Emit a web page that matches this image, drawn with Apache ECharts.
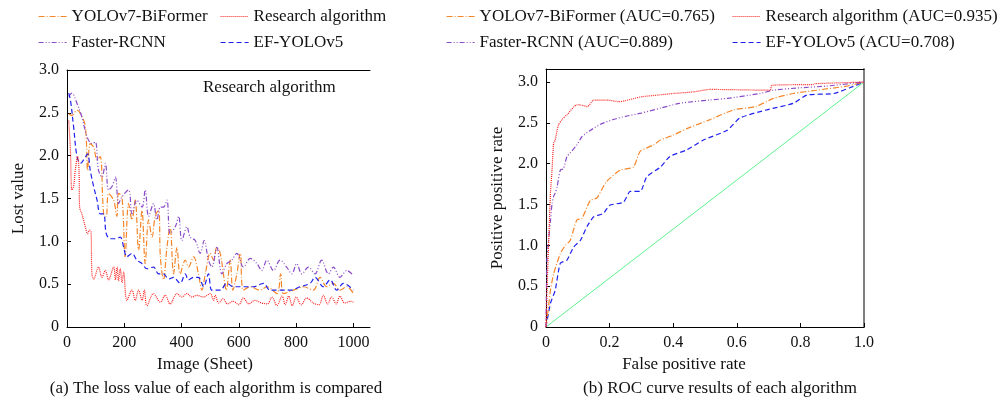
<!DOCTYPE html>
<html lang="en">
<head>
<meta charset="UTF-8">
<title>Loss and ROC</title>
<script src="https://cdn.jsdelivr.net/npm/echarts@6/dist/echarts.min.js"></script>
<style>
  body { margin: 0; background: #fff; }
  #main { width: 1001px; height: 404px; }
</style>
</head>
<body>
<div id="main"></div>
<script>
// ---- loss curves (x = image sheet, y = loss) ----
var yoloLossX = [6,17,35,47,64,72,81,93,105,116,128,137,145,163,174,180,192,203,215,227,238,250,262,273,285,297,308,320,326,337,349,360,372,384,395,413,424,442,459,471,483,500,512,523,535,546,556,570,579,593,605,616,640,674,698,733,746,756,791,826,860,884,907,930,953,977,1000];
var yoloLossY = [2.49,2.47,2.53,2.49,2.34,1.83,2.14,2.1,1.95,1.99,1.32,1.29,1.56,1.48,1.29,1.56,1.52,0.82,1.44,1.25,1.48,0.9,1.36,0.74,1.25,1.05,1.29,1.36,0.82,0.55,0.93,1.17,0.62,0.93,0.62,0.78,0.7,0.82,0.62,0.43,0.62,0.86,0.78,0.93,0.86,0.62,0.43,0.78,0.43,0.62,0.86,0.43,0.47,0.43,0.47,0.39,0.62,0.39,0.43,0.47,0.43,0.58,0.47,0.51,0.43,0.47,0.39];

var oursLossX = [6,12,17,23,29,37,42,44,52,64,72,79,84,87,93,110,122,134,145,163,169,175,180,186,192,198,209,227,238,250,262,270,279,302,326,343,360,384,401,419,436,453,477,500,512,517,530,545,560,580,600,616,635,655,680,700,716,733,751,762,774,787,800,818,837,860,880,895,910,924,940,953,970,990,1000];
var oursLossY = [2.41,2.06,1.6,1.64,1.83,1.99,1.83,1.4,1.32,1.17,1.09,1.13,1.11,0.62,0.56,0.7,0.58,0.66,0.55,0.7,0.55,0.7,0.54,0.68,0.52,0.64,0.31,0.43,0.31,0.43,0.31,0.43,0.25,0.39,0.29,0.37,0.27,0.39,0.35,0.39,0.35,0.37,0.35,0.39,0.31,0.37,0.28,0.33,0.27,0.3,0.26,0.34,0.27,0.31,0.28,0.27,0.35,0.25,0.36,0.26,0.36,0.25,0.35,0.26,0.34,0.28,0.26,0.37,0.27,0.35,0.27,0.36,0.28,0.3,0.29];

var frcnnLossX = [6,17,35,52,70,87,99,110,122,134,145,157,169,180,192,215,227,244,262,273,285,302,314,326,337,349,360,378,390,401,419,430,448,465,479,494,506,523,541,558,575,593,616,640,663,680,698,721,744,767,785,802,820,843,866,889,913,930,953,977,1000];
var frcnnLossY = [2.69,2.73,2.61,2.45,2.22,2.14,2.16,1.83,1.75,1.91,1.6,1.64,1.75,1.44,1.52,1.6,1.32,1.48,1.4,1.6,1.29,1.44,1.25,1.4,1.4,1.48,1.09,1.17,1.29,1.01,1.17,1.05,1.01,0.86,1.01,0.78,0.7,0.93,0.62,0.74,0.78,0.86,0.7,0.8,0.74,0.66,0.78,0.66,0.78,0.7,0.62,0.74,0.62,0.7,0.62,0.78,0.62,0.7,0.58,0.66,0.6];

var efLossX = [6,12,23,35,47,58,72,81,93,105,116,128,137,151,169,186,198,209,227,244,262,279,302,320,337,355,372,395,413,424,442,459,477,494,506,535,558,581,616,651,686,709,744,779,814,849,866,895,919,942,965,1000];
var efLossY = [2.73,2.65,2.34,1.99,1.91,1.95,2.02,1.83,1.64,1.48,1.32,1.32,1.09,1.03,1.03,1.05,0.93,0.82,0.86,0.78,0.74,0.68,0.7,0.62,0.62,0.56,0.58,0.51,0.62,0.55,0.58,0.58,0.47,0.62,0.43,0.43,0.51,0.47,0.47,0.47,0.51,0.43,0.43,0.43,0.47,0.51,0.58,0.47,0.55,0.43,0.51,0.43];

// ---- ROC curves (x = false positive rate) ----
var yoloRocX = [0,0.008,0.014,0.024,0.045,0.061,0.076,0.097,0.113,0.139,0.16,0.19,0.233,0.275,0.296,0.338,0.36,0.40,0.443,0.516,0.59,0.66,0.715,0.778,0.85,0.945,1.0];
var yoloRocY = [0,0.25,0.45,0.65,0.9,1.0,1.06,1.31,1.33,1.55,1.58,1.78,1.92,1.96,2.15,2.23,2.29,2.35,2.43,2.54,2.66,2.70,2.8,2.86,2.9,2.95,3.0];

var oursRocX = [0,0.003,0.014,0.019,0.024,0.029,0.035,0.04,0.05,0.066,0.097,0.108,0.13,0.15,0.19,0.23,0.30,0.35,0.40,0.464,0.516,0.705,0.71,0.84,0.846,1.0];
var oursRocY = [0,0.41,1.64,1.92,2.25,2.29,2.41,2.48,2.54,2.6,2.72,2.72,2.70,2.78,2.78,2.76,2.82,2.84,2.86,2.88,2.91,2.9,2.96,2.97,2.98,3.0];

var frcnnRocX = [0,0.003,0.008,0.014,0.019,0.024,0.029,0.035,0.045,0.055,0.066,0.076,0.097,0.113,0.14,0.17,0.21,0.25,0.3,0.36,0.42,0.516,0.57,0.673,0.715,0.8,0.88,1.0];
var frcnnRocY = [0,0.82,1.06,1.3,1.51,1.6,1.64,1.72,1.92,1.94,2.09,2.13,2.23,2.33,2.41,2.48,2.54,2.58,2.62,2.68,2.74,2.78,2.8,2.86,2.9,2.93,2.95,3.0];

var efRocX = [0,0.014,0.029,0.045,0.066,0.087,0.108,0.129,0.15,0.18,0.2,0.244,0.265,0.296,0.317,0.36,0.39,0.443,0.495,0.57,0.61,0.694,0.778,0.82,0.905,0.955,1.0];
var efRocY = [0,0.29,0.45,0.78,0.82,0.98,1.06,1.23,1.35,1.39,1.49,1.53,1.66,1.66,1.84,1.96,2.09,2.17,2.29,2.41,2.56,2.66,2.74,2.84,2.86,2.93,3.0];

var chanceX = [0, 1];
var chanceY = [0, 3];

function pairs(xs, ys) {
    var out = [];
    for (var i = 0; i < xs.length; i++) out.push([xs[i], ys[i]]);
    return out;
}

var FONT = 'Liberation Serif';
var C_ORANGE = '#f5862a', C_RED = '#ff1f1f', C_PURPLE = '#8a4cc8', C_BLUE = '#2020ee';
var DASH_ORANGE = [6, 2, 1, 2], DASH_RED = [1, 1], DASH_PURPLE = [5, 2, 1, 2, 1, 2], DASH_BLUE = [5, 3];

function mkLine(name, data, color, dash, xi, yi, smooth) {
    return {
        name: name, type: 'line', data: data, xAxisIndex: xi, yAxisIndex: yi,
        symbol: 'none', smooth: smooth, animation: false,
        lineStyle: { color: color, width: 1.2, type: dash },
        itemStyle: { color: color }
    };
}

// one legend per entry so each sits where the original puts it
function mkLegend(name, left, top, color, dash) {
    return {
        data: [name], left: left, top: top, itemWidth: 28, itemHeight: 10, itemGap: 0,
        itemStyle: { color: 'transparent', borderWidth: 0, opacity: 0 },
        lineStyle: { color: color, type: dash, width: 1.2 },
        textStyle: { fontFamily: FONT, fontSize: 17, color: '#111' }, padding: 0
    };
}

function fmt1(v) { return v === 0 ? '0' : v.toFixed(1); }

var axisName = { fontFamily: FONT, fontSize: 17, color: '#111' };
var blackLine = { onZero: false, lineStyle: { color: '#000', width: 1 } };
var noMarks = { axisTick: { show: false }, axisLabel: { show: false }, splitLine: { show: false } };

var myChart = echarts.init(document.getElementById('main'));

var option = {
    animation: false,
    grid: [
        { left: 67, top: 70, width: 303, height: 257 },
        { left: 546, top: 69, width: 318, height: 258 }
    ],
    legend: [
        mkLegend('YOLOv7-BiFormer', 38, 8, C_ORANGE, DASH_ORANGE),
        mkLegend('Research algorithm', 220, 8, C_RED, DASH_RED),
        mkLegend('Faster-RCNN', 38, 34, C_PURPLE, DASH_PURPLE),
        mkLegend('EF-YOLOv5', 220, 34, C_BLUE, DASH_BLUE),
        mkLegend('YOLOv7-BiFormer (AUC=0.765)', 446, 8, C_ORANGE, DASH_ORANGE),
        mkLegend('Research algorithm (AUC=0.935)', 732, 8, C_RED, DASH_RED),
        mkLegend('Faster-RCNN (AUC=0.889)', 446, 34, C_PURPLE, DASH_PURPLE),
        mkLegend('EF-YOLOv5 (ACU=0.708)', 732, 34, C_BLUE, DASH_BLUE)
    ],
    xAxis: [
        {
            gridIndex: 0, type: 'value', min: 0, max: 1058, interval: 200,
            axisLine: blackLine, splitLine: { show: false },
            axisTick: { inside: true, length: 4, lineStyle: { color: '#000' } },
            axisLabel: { showMaxLabel: false, margin: 8, fontFamily: FONT, fontSize: 16, color: '#111',
                formatter: function (v) { return String(v); } },
            name: 'Image (Sheet)', nameLocation: 'middle', nameGap: 29,
            nameTextStyle: { fontFamily: FONT, fontSize: 17, color: '#111', padding: [0, 27, 0, 0] }
        },
        {
            gridIndex: 1, type: 'value', min: 0, max: 1, interval: 0.2,
            axisLine: blackLine, splitLine: { show: false },
            axisTick: { inside: true, length: 4, lineStyle: { color: '#000' } },
            axisLabel: { margin: 8, fontFamily: FONT, fontSize: 16, color: '#111', formatter: fmt1 },
            name: 'False positive rate', nameLocation: 'middle', nameGap: 29,
            nameTextStyle: { fontFamily: FONT, fontSize: 17, color: '#111', padding: [0, 42, 0, 0] }
        },
        // top frame lines
        Object.assign({ gridIndex: 0, type: 'value', position: 'top', min: 0, max: 1058, axisLine: blackLine }, noMarks),
        Object.assign({ gridIndex: 1, type: 'value', position: 'top', min: 0, max: 1, axisLine: blackLine }, noMarks)
    ],
    yAxis: [
        {
            gridIndex: 0, type: 'value', min: 0, max: 3, interval: 0.5,
            axisLine: { show: true, onZero: false, lineStyle: { color: '#000', width: 1 } }, splitLine: { show: false },
            axisTick: { show: true, inside: true, length: 4, lineStyle: { color: '#000' } },
            axisLabel: { margin: 8, fontFamily: FONT, fontSize: 16, color: '#111', formatter: fmt1 },
            name: 'Lost value', nameLocation: 'middle', nameGap: 40, nameTextStyle: axisName
        },
        {
            gridIndex: 1, type: 'value', min: 0, max: 3.16, interval: 0.5,
            axisLine: { show: true, onZero: false, lineStyle: { color: '#000', width: 1 } }, splitLine: { show: false },
            axisTick: { show: true, inside: true, length: 4, lineStyle: { color: '#000' } },
            axisLabel: { margin: 8, showMaxLabel: false, fontFamily: FONT, fontSize: 16, color: '#111', formatter: fmt1 },
            name: 'Positive positive rate', nameLocation: 'middle', nameGap: 40, nameTextStyle: axisName
        },
        // right frame line of the ROC plot
        Object.assign({ gridIndex: 1, type: 'value', position: 'right', min: 0, max: 3.16,
            axisLine: { show: true, onZero: false, lineStyle: { color: '#808080', width: 2 } } }, noMarks)
    ],
    graphic: [
        { type: 'text', left: 203, top: 79, style: { text: 'Research algorithm', font: '17px "Liberation Serif"', fill: '#111' } },
        { type: 'text', x: 216, y: 389, style: { text: '(a) The loss value of each algorithm is compared', font: '17px "Liberation Serif"', fill: '#111', align: 'center', verticalAlign: 'middle' } },
        { type: 'text', x: 720, y: 389, style: { text: '(b) ROC curve results of each algorithm', font: '17px "Liberation Serif"', fill: '#111', align: 'center', verticalAlign: 'middle' } }
    ],
    series: [
        mkLine('YOLOv7-BiFormer', pairs(yoloLossX, yoloLossY), C_ORANGE, DASH_ORANGE, 0, 0, 0.35),
        mkLine('Faster-RCNN', pairs(frcnnLossX, frcnnLossY), C_PURPLE, DASH_PURPLE, 0, 0, 0.35),
        mkLine('EF-YOLOv5', pairs(efLossX, efLossY), C_BLUE, DASH_BLUE, 0, 0, 0.35),
        mkLine('Research algorithm', pairs(oursLossX, oursLossY), C_RED, DASH_RED, 0, 0, 0.35),
        {
            name: 'chance', type: 'line', data: pairs(chanceX, chanceY), xAxisIndex: 1, yAxisIndex: 1,
            symbol: 'none', lineStyle: { color: '#5ef08f', width: 1 }, animation: false
        },
        mkLine('EF-YOLOv5 (ACU=0.708)', pairs(efRocX, efRocY), C_BLUE, DASH_BLUE, 1, 1, 0.2),
        mkLine('YOLOv7-BiFormer (AUC=0.765)', pairs(yoloRocX, yoloRocY), C_ORANGE, DASH_ORANGE, 1, 1, 0.2),
        mkLine('Faster-RCNN (AUC=0.889)', pairs(frcnnRocX, frcnnRocY), C_PURPLE, DASH_PURPLE, 1, 1, 0.2),
        mkLine('Research algorithm (AUC=0.935)', pairs(oursRocX, oursRocY), C_RED, DASH_RED, 1, 1, 0.2)
    ]
};

myChart.setOption(option);
</script>
</body>
</html>
